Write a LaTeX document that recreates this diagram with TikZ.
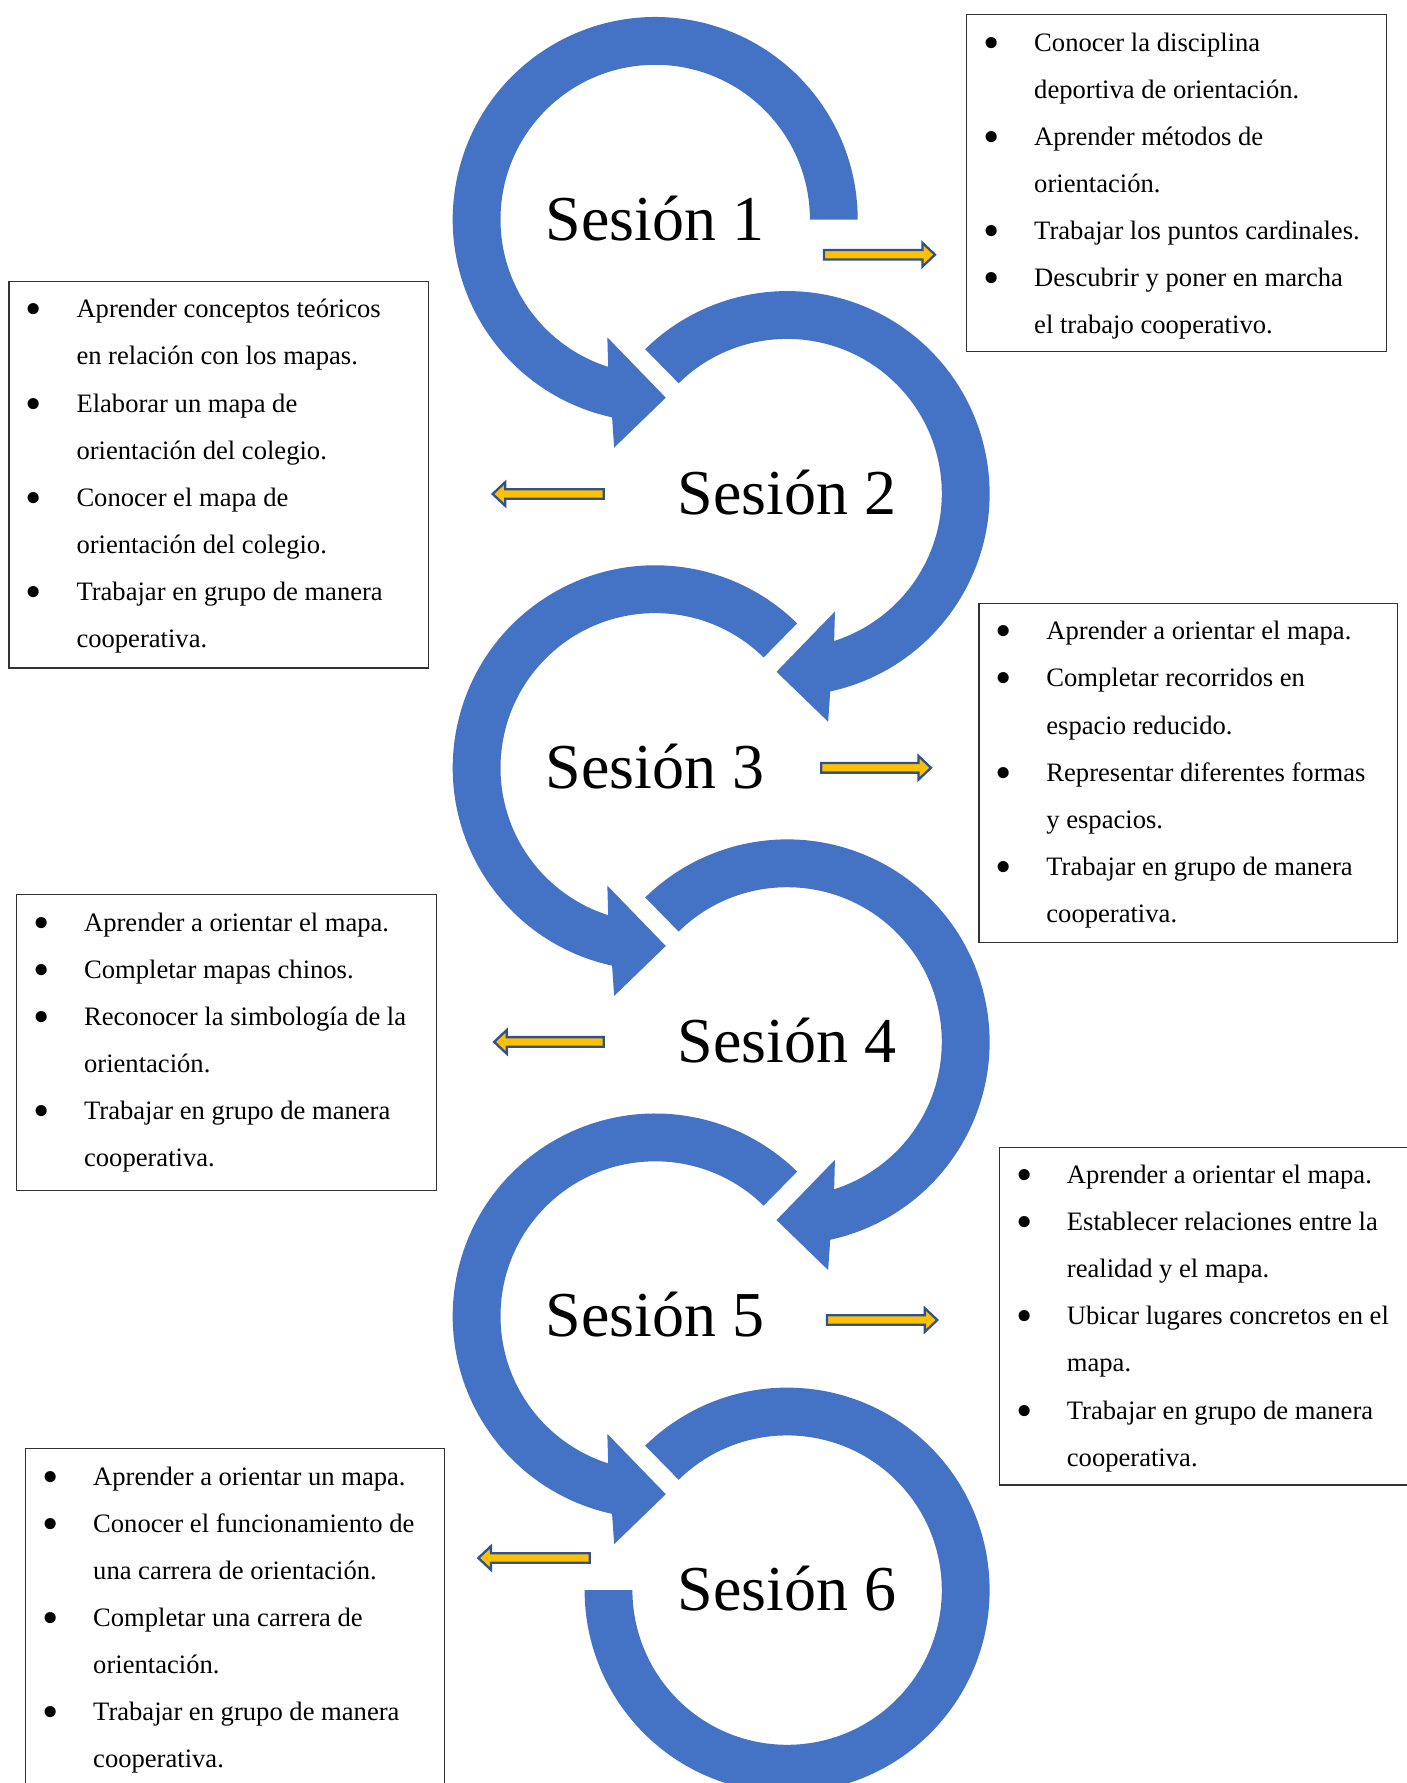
\documentclass[tikz,border=0pt]{standalone}
\usepackage{fontspec}
\usepackage{graphicx}
\setmainfont{Liberation Serif}

\definecolor{ringblue}{HTML}{4472C4}
\definecolor{arrowfill}{HTML}{FFC000}
\definecolor{arrowedge}{HTML}{2F528F}

% ring radii (inner / outer)
\newcommand\rin{154.7}
\newcommand\rout{202.5}

% ring running counterclockwise from angle #1 and ending in an arrowhead
\newcommand\ringpath[1]{%
  \fill[ringblue] (-#1:\rin) arc[start angle=-#1, end angle=-252.3, radius=\rin]
    -- (-247.9:127.2) -- (-273.4:178.5) -- (-259.8:231.8) -- (-257.7:\rout)
    arc[start angle=-257.7, end angle=-#1, radius=\rout] -- cycle;}

% left column ring (counterclockwise), right column ring (mirrored)
\newcommand\ringleft[3]{\begin{scope}[shift={(#1,#2)}]\ringpath{#3}\end{scope}}
\newcommand\ringright[3]{\begin{scope}[shift={(#1,#2)},xscale=-1]\ringpath{#3}\end{scope}}

% yellow block arrows: tail x, tip x, y
\newcommand\yarrowR[3]{%
  \filldraw[yarrow] (#1,#3-4.8) -- (#2-12.5,#3-4.8) -- (#2-12.5,#3-11.8) -- (#2,#3)
    -- (#2-12.5,#3+11.8) -- (#2-12.5,#3+4.8) -- (#1,#3+4.8) -- cycle;}
\newcommand\yarrowL[3]{%
  \filldraw[yarrow] (#1,#3-4.8) -- (#2+12.5,#3-4.8) -- (#2+12.5,#3-11.8) -- (#2,#3)
    -- (#2+12.5,#3+11.8) -- (#2+12.5,#3+4.8) -- (#1,#3+4.8) -- cycle;}

% list lines
\newcommand\bul{\rule{0pt}{30pt}\makebox[47.5pt][l]{\hspace*{-3.2pt}\raisebox{-7pt}{\scalebox{1.75}{•}}}}
\newcommand\ind{\rule{0pt}{30pt}\hspace*{47.5pt}}

\tikzset{
  yarrow/.style={fill=arrowfill, draw=arrowedge, line width=2.3pt, line join=miter},
  sesion/.style={font=\fontsize{64}{70}\selectfont, inner sep=0pt, anchor=base},
  listframe/.style={draw=black!80, line width=1.3pt, inner sep=0pt, anchor=north west},
  listtext/.style={font=\fontsize{26.6}{47.1}\selectfont, align=left, inner sep=0pt, anchor=north west},
}

\begin{document}
\begin{tikzpicture}[x=1pt, y=-1pt]
\useasboundingbox (0,0) rectangle (1407,1783);
\clip (0,0) rectangle (1407,1783);

% session rings
\ringleft{655.2}{219.5}{0}
\ringright{787.1}{493.6}{45.5}
\ringleft{655.2}{767.8}{45.5}
\ringright{787.1}{1041.9}{45.5}
\ringleft{655.2}{1316}{45.5}
\begin{scope}[shift={(787.1,1590.1)},xscale=-1]
  \fill[ringblue] (-45.5:\rin) arc[start angle=-45.5, end angle=-360, radius=\rin]
    -- (-360:\rout) arc[start angle=-360, end angle=-45.5, radius=\rout] -- cycle;
\end{scope}

% session labels
\node[sesion] (s1) at (655.2,240.5) {Sesión 1};
\node[sesion] (s2) at (787.1,514.1) {Sesión 2};
\node[sesion] (s3) at (655.2,788.3) {Sesión 3};
\node[sesion] (s4) at (787.1,1062.4) {Sesión 4};
\node[sesion] (s5) at (655.2,1336.5) {Sesión 5};
\node[sesion] (s6) at (787.1,1610.6) {Sesión 6};

% pointers towards the objective lists
\yarrowR{823.9}{935}{254.7}
\yarrowL{603.8}{492.7}{494}
\yarrowR{821.2}{931}{767.8}
\yarrowL{603.8}{494.2}{1041.9}
\yarrowR{826.9}{937.3}{1320}
\yarrowL{589.8}{478.4}{1558}

% objective lists
\node[listframe, minimum width=419.7pt, minimum height=336.7pt] (b1) at (966,14) {};
\node[listtext] (t1) at (986.5,20.8) {%
\bul Conocer la disciplina\\
\ind deportiva de orientación.\\
\bul Aprender métodos de\\
\ind orientación.\\
\bul Trabajar los puntos cardinales.\\
\bul Descubrir y poner en marcha\\
\ind el trabajo cooperativo.};

\node[listframe, minimum width=419.4pt, minimum height=386.3pt] (b2) at (8.3,281) {};
\node[listtext] (t2) at (28.8,287.6) {%
\bul Aprender conceptos teóricos\\
\ind en relación con los mapas.\\
\bul Elaborar un mapa de\\
\ind orientación del colegio.\\
\bul Conocer el mapa de\\
\ind orientación del colegio.\\
\bul Trabajar en grupo de manera\\
\ind cooperativa.};

\node[listframe, minimum width=418.6pt, minimum height=339pt] (b3) at (978.2,602.8) {};
\node[listtext] (t3) at (998.7,609.6) {%
\bul Aprender a orientar el mapa.\\
\bul Completar recorridos en\\
\ind espacio reducido.\\
\bul Representar diferentes formas\\
\ind y espacios.\\
\bul Trabajar en grupo de manera\\
\ind cooperativa.};

\node[listframe, minimum width=419.7pt, minimum height=295.8pt] (b4) at (15.9,894) {};
\node[listtext] (t4) at (36.4,900.8) {%
\bul Aprender a orientar el mapa.\\
\bul Completar mapas chinos.\\
\bul Reconocer la simbología de la\\
\ind orientación.\\
\bul Trabajar en grupo de manera\\
\ind cooperativa.};

\node[listframe, minimum width=419.5pt, minimum height=337.9pt] (b5) at (998.7,1146.5) {};
\node[listtext] (t5) at (1019.2,1153.3) {%
\bul Aprender a orientar el mapa.\\
\bul Establecer relaciones entre la\\
\ind realidad y el mapa.\\
\bul Ubicar lugares concretos en el\\
\ind mapa.\\
\bul Trabajar en grupo de manera\\
\ind cooperativa.};

\node[listframe, minimum width=418.6pt, minimum height=360pt] (b6) at (25,1448) {};
\node[listtext] (t6) at (45.5,1454.8) {%
\bul Aprender a orientar un mapa.\\
\bul Conocer el funcionamiento de\\
\ind una carrera de orientación.\\
\bul Completar una carrera de\\
\ind orientación.\\
\bul Trabajar en grupo de manera\\
\ind cooperativa.};
\end{tikzpicture}
\end{document}
